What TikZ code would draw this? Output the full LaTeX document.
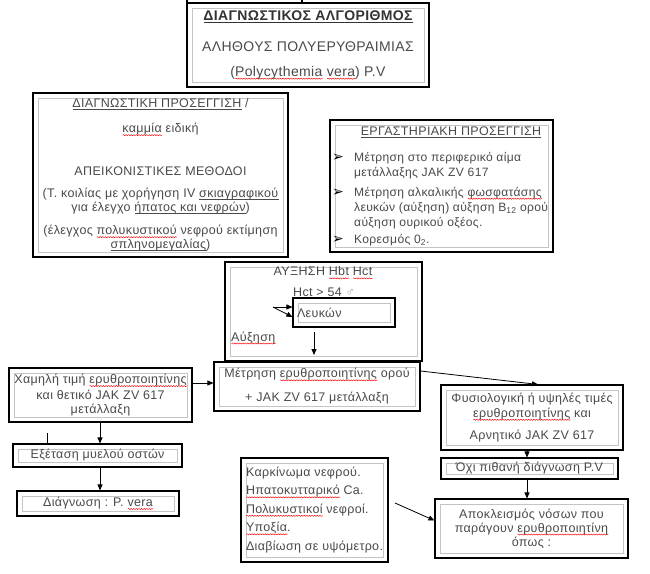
\documentclass[tikz,border=0pt]{standalone}
\usepackage{fontspec}
\setmainfont[LetterSpace=2.7]{Liberation Sans}
\newfontfamily\djv{DejaVu Sans}
\usetikzlibrary{arrows.meta,calc,decorations.pathmorphing}
\definecolor{textc}{HTML}{4A4A4A}
\definecolor{boxgray}{HTML}{C4C4C4}
\newcommand\fs{\fontsize{12.5}{14}\selectfont}
\newcommand\fe{\fontsize{12.1}{14}\selectfont}
\newcommand\ft{\fontsize{14}{16}\selectfont}
\newsavebox\sqbox
\newlength\sqlen
\newcommand\sq[1]{\sbox\sqbox{#1}\setlength\sqlen{\wd\sqbox}%
  \rlap{\lower2.4pt\hbox{\tikz[baseline=0pt]\draw[red, line width=0.45pt, path picture={}, decorate, decoration={snake, amplitude=0.55pt, segment length=2.6pt}] (0pt,0pt) -- (\sqlen,0pt);}}\usebox\sqbox}
\newcommand\ul[2][textc]{\sbox\sqbox{#2}\setlength\sqlen{\wd\sqbox}%
  \rlap{\lower1.8pt\hbox{\tikz[baseline=0pt]\draw[#1, line width=0.55pt, path picture={}] (0pt,0pt) -- (\sqlen,0pt);}}\usebox\sqbox}
\newcommand\bul{\makebox[22pt][l]{\color{black}\djv\fontsize{14}{14}\selectfont ➢}}
\tikzset{
  wbox/.style={draw=black, line width=1.1pt, fill=white, inner sep=0pt, align=center,
    path picture={\draw[boxgray, line width=1pt]
      ([xshift=5pt,yshift=-5pt]path picture bounding box.north west) rectangle
      ([xshift=-5pt,yshift=5pt]path picture bounding box.south east);}},
  arr/.style={draw=black, line width=0.8pt, -{Triangle[length=6pt,width=5pt]}},
  plain/.style={draw=black, line width=0.8pt},
  txt/.style={inner sep=0pt}
}
\begin{document}
\begin{tikzpicture}[x=1pt, y=-1pt, font=\fs, text=textc]
\useasboundingbox (0,0) rectangle (650,573);
\fill[white] (0,0) rectangle (650,573);
\draw[draw=black, line width=1.1pt] (187,-10) rectangle (302,3);

\node[wbox, minimum width=242pt, minimum height=84pt, font=\ft] (T) at (308,45)
  {{\bfseries\color{black!80}\ul[black!80]{ΔΙΑΓΝΩΣΤΙΚΟΣ ΑΛΓΟΡΙΘΜΟΣ}}\\[15pt]
   ΑΛΗΘΟΥΣ ΠΟΛΥΕΡΥΘΡΑΙΜΙΑΣ\\[9pt]
   (\sq{Polycythemia} \sq{vera}) P.V};

\node[wbox, minimum width=255pt, minimum height=164pt] (D) at (160.5,175)
  {\ul{ΔΙΑΓΝΩΣΤΙΚΗ ΠΡΟΣΕΓΓΙΣΗ} /\\[11pt]
   \sq{καμμία} ειδική\\[29pt]
   ΑΠΕΙΚΟΝΙΣΤΙΚΕΣ ΜΕΘΟΔΟΙ\\[8pt]
   (Τ. κοιλίας με χορήγηση IV \ul{σκιαγραφικού}\\
   για έλεγχο \ul{ήπατος και νεφρών})\\[9pt]
   (έλεγχος \sq{πολυκυστικού} νεφρού εκτίμηση\\
   \ul{σπληνομεγαλίας})};

\node[wbox, minimum width=223pt, minimum height=132pt] (E) at (441.5,186) {};
\node[txt] (Et) at (451,132) {\ul{ΕΡΓΑΣΤΗΡΙΑΚΗ ΠΡΟΣΕΓΓΙΣΗ}};
\node[txt, anchor=west, align=left, font=\fe] (Eb) at (332,199)
  {\bul Μέτρηση στο περιφερικό αίμα\\[1pt]
   \hspace*{22pt}μετάλλαξης JAK ZV 617\\[6pt]
   \bul Μέτρηση αλκαλικής \sq{φωσφατάσης}\\[1pt]
   \hspace*{22pt}λευκών (αύξηση) αύξηση B\textsubscript{12} ορού\\[1pt]
   \hspace*{22pt}αύξηση ουρικού οξέος.\\[3pt]
   \bul Κορεσμός 0\textsubscript{2}.};

\node[wbox, minimum width=197pt, minimum height=99pt] (A) at (323.5,311.5) {};
\node[txt] (At1) at (323,273) {ΑΥΞΗΣΗ \sq{Hbt} \sq{Hct}};
\node[txt, anchor=west] (At2) at (293,294) {\sq{Hct} > 54 {\color{black!35}♂}};
\node[txt, anchor=west] (At3) at (231,338) {\sq{Αύξηση}};
\node[wbox, minimum width=102pt, minimum height=29pt, text width=94pt, align=left] (L) at (344,312.5) {Λευκών};
\coordinate (c1) at (273,307);
\draw[arr] (c1) -- (c1 -| L.west);
\draw[arr] (c1) -- ([yshift=-4.5pt]L.west);
\coordinate (c2) at (314,332);
\coordinate (c3) at (314,355);
\draw[arr] (c2) -- (c3);

\node[wbox, minimum width=206pt, minimum height=49pt] (M) at (317,386.5)
  {Μέτρηση \sq{ερυθροποιητίνης} ορού\\[10pt]
   + JAK ZV 617 μετάλλαξη};

\node[wbox, minimum width=183pt, minimum height=54pt] (X) at (100.5,395)
  {Χαμηλή τιμή \sq{ερυθροποιητίνης}\\[1.5pt]
   και θετικό JAK ZV 617\\
   μετάλλαξη};

\node[wbox, minimum width=169pt, minimum height=23pt] (EX) at (97.5,455.5) {Εξέταση μυελού οστών};
\node[wbox, minimum width=162pt, minimum height=25pt] (DG) at (98,503.5) {Διάγνωση : P. \sq{vera}};

\node[wbox, minimum width=182pt, minimum height=65pt] (F) at (532,417.5)
  {Φυσιολογική ή υψηλές τιμές\\[1pt]
   \sq{ερυθροποιητίνης} και\\[8pt]
   Αρνητικό JAK ZV 617};
\node[wbox, minimum width=177pt, minimum height=21pt] (O) at (529.5,468.5) {Όχι πιθανή διάγνωση P.V};

\node[wbox, minimum width=147pt, minimum height=104pt, align=left] (K) at (314.5,510)
  {Καρκίνωμα νεφρού.\\[4.5pt]
   \sq{Ηπατοκυτταρικό} Ca.\\[4.5pt]
   \sq{Πολυκυστικοί} νεφροί.\\[4.5pt]
   \sq{Υποξία}.\\[4.5pt]
   Διαβίωση σε υψόμετρο.};

\node[wbox, minimum width=193pt, minimum height=59pt] (AP) at (531.5,528.5)
  {Αποκλεισμός νόσων που\\
   παράγουν \sq{ερυθροποιητίνη}\\
   όπως :};

\draw[arr] (X.east |- 0,383) -- (M.west |- 0,383);
\draw[arr] ([yshift=15.5pt]M.east) -- ([xshift=6pt]F.north);
\draw[arr] (X.south -| 100,0) -- (EX.north -| 100,0);
\coordinate (c4) at (47,433);
\draw[plain] (c4) -- (EX.north -| c4);
\draw[arr] (EX.south -| 100,0) -- (DG.north -| 100,0);
\draw[arr] (F.south -| 527,0) -- (O.north -| 527,0);
\draw[arr] (O.south -| 527,0) -- (AP.north -| 527,0);
\coordinate (c5) at (395,503);
\draw[arr] (c5) -- ([yshift=8pt]AP.west);
\end{tikzpicture}
\end{document}
